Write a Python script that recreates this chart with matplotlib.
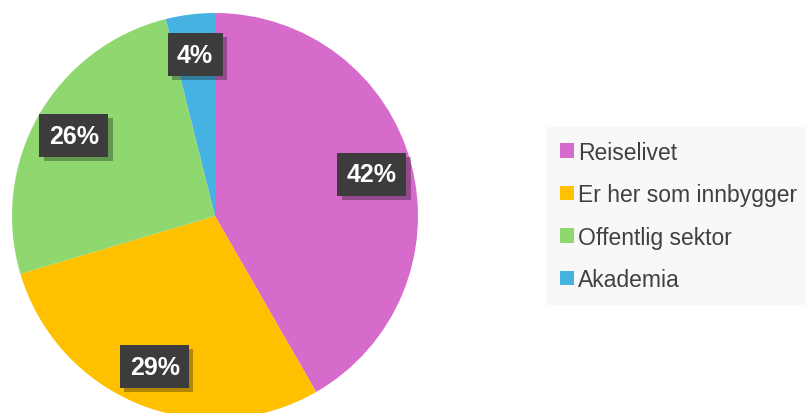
import matplotlib
matplotlib.use("Agg")
import matplotlib.pyplot as plt
import matplotlib.patheffects as pe

plt.rcParams['font.family'] = ['Liberation Sans', 'DejaVu Sans']

# andeler lest av figuren
kategorier = ['Reiselivet', 'Er her som innbygger', 'Offentlig sektor', 'Akademia']
andeler = [41.7, 28.7, 25.7, 3.9]
farger = ['#D66BCB', '#FFC000', '#8FD870', '#45B2E2']

fig = plt.figure(figsize=(8.06, 4.14), dpi=100)
# kvadratisk akse, sirkelen går litt under nederste kant
ax = fig.add_axes([12 / 806, -6 / 414, 406 / 806, 406 / 414])

wedges, texts, autotexts = ax.pie(
    andeler, colors=farger, startangle=90, counterclock=False,
    autopct=lambda p: '{:.0f}%'.format(p), pctdistance=0.8,
    wedgeprops=dict(linewidth=0), radius=1.0)
ax.set_xlim(-1, 1)
ax.set_ylim(-1, 1)
ax.set_aspect('equal')

for t in autotexts:
    t.set_color('white')
    t.set_fontsize(18)
    t.set_fontweight('bold')
    t.set_bbox(dict(boxstyle='square,pad=0.38', facecolor='#3c3c3c', edgecolor='none'))
    t.get_bbox_patch().set_path_effects(
        [pe.SimplePatchShadow(offset=(3, -3), shadow_rgbFace='black', alpha=0.3), pe.Normal()])

leg = fig.legend(wedges, kategorier, loc='upper left',
                 bbox_to_anchor=(546 / 806, 1 - 128 / 414),
                 fontsize=16.5, frameon=True, fancybox=False,
                 handlelength=0.6, handleheight=0.6, handletextpad=0.2,
                 labelspacing=0.85, borderpad=0.6, borderaxespad=0)
leg.get_frame().set_facecolor('#f7f7f7')
leg.get_frame().set_edgecolor('none')
for txt in leg.get_texts():
    txt.set_color('#404040')

fig.savefig('out.png', dpi=100)
